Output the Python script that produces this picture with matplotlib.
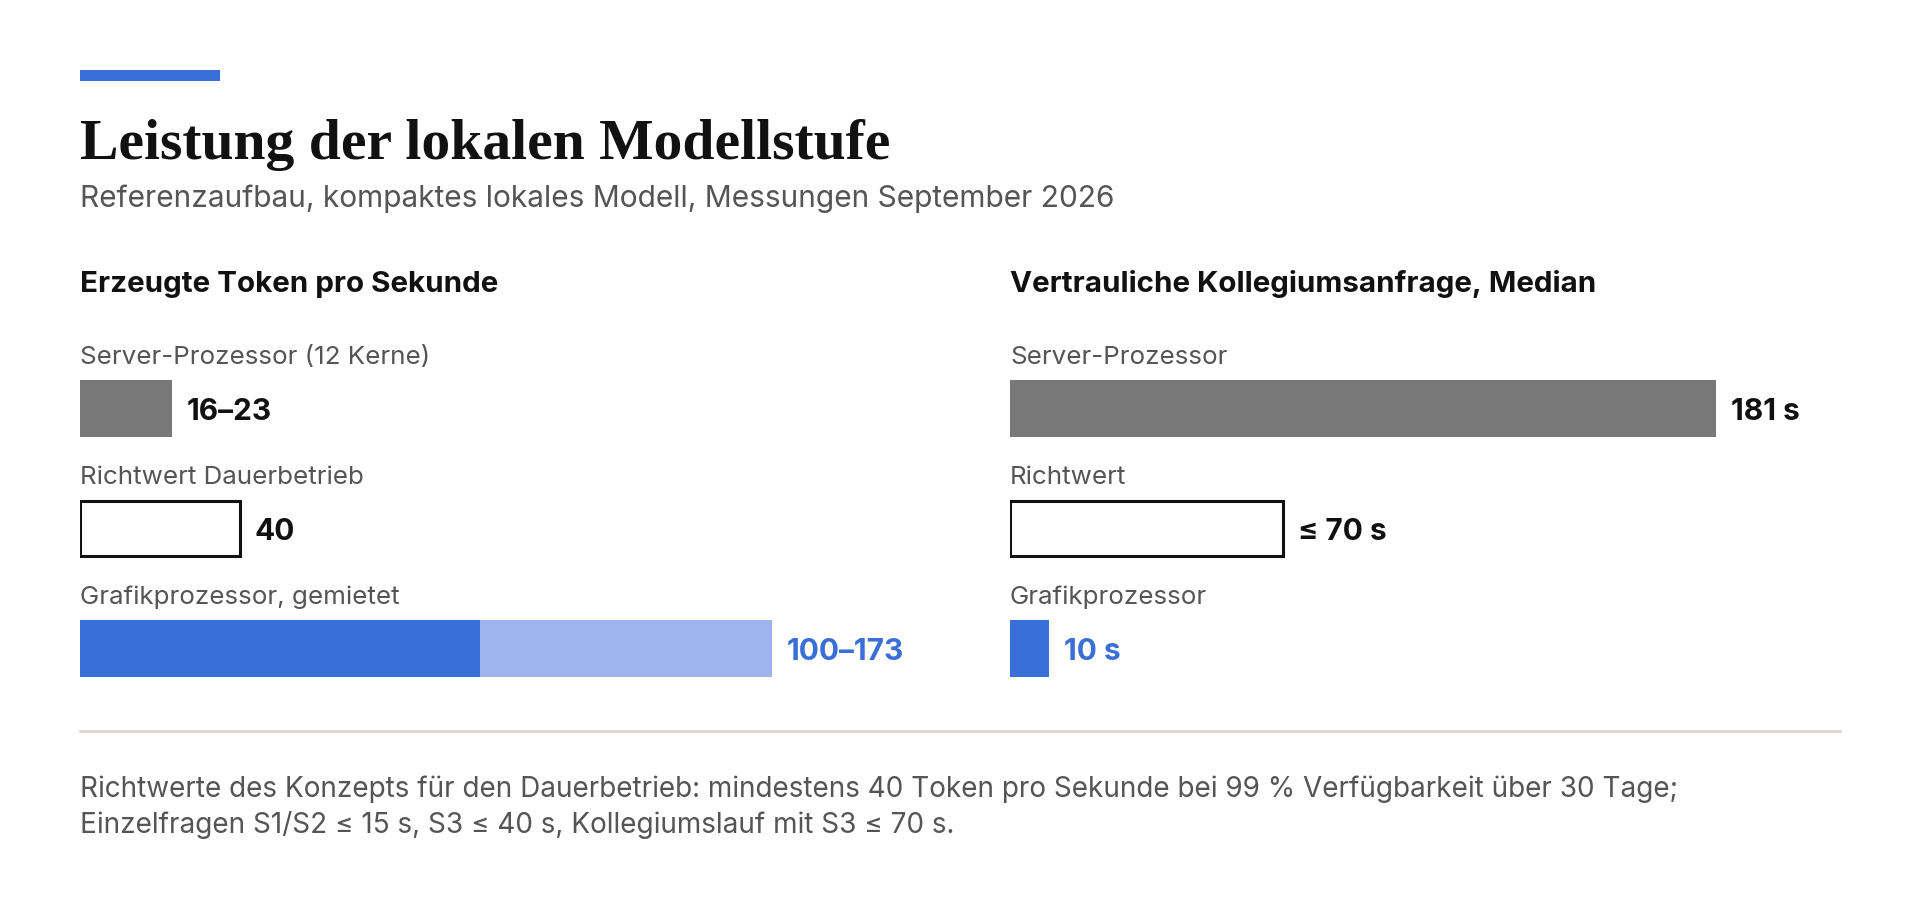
import matplotlib
matplotlib.use("Agg")
import matplotlib.pyplot as plt
from matplotlib.patches import Rectangle

plt.rcParams['font.family'] = ['Inter', 'DejaVu Sans']

## data
title = "Leistung der lokalen Modellstufe"
subtitle = "Referenzaufbau, kompaktes lokales Modell, Messungen September 2026"

tok_title = "Erzeugte Token pro Sekunde"
tok_labels = ["Server-Prozessor (12 Kerne)", "Richtwert Dauerbetrieb", "Grafikprozessor, gemietet"]
tok_low = [16, 40, 100]
tok_high = [23, 40, 173]
tok_text = ["16–23", "40", "100–173"]

lat_title = "Vertrauliche Kollegiumsanfrage, Median"
lat_labels = ["Server-Prozessor", "Richtwert", "Grafikprozessor"]
lat_values = [181, 70, 10]
lat_text = ["181 s", "≤ 70 s", "10 s"]

note_lines = ["Richtwerte des Konzepts für den Dauerbetrieb: mindestens 40 Token pro Sekunde bei 99 % Verfügbarkeit über 30 Tage;",
              "Einzelfragen S1/S2 ≤ 15 s, S3 ≤ 40 s, Kollegiumslauf mit S3 ≤ 70 s."]

## colours
GRAY = "#787878"
BLUE = "#3a6fd8"
LIGHT = "#9db5ec"
TXT = "#555555"

W, H = 1920, 900
fig = plt.figure(figsize=(19.2, 9), dpi=100)
fig.patch.set_facecolor("white")

def px(x, y):
    return x / W, 1 - y / H

# accent bar + header
fig.patches.append(Rectangle(px(80, 81), 140 / W, 11 / H, transform=fig.transFigure,
                             facecolor=BLUE, edgecolor="none"))
fig.text(*px(80, 159), title, fontsize=41.5, fontweight="bold",
         family=["Liberation Serif", "DejaVu Serif"], va="baseline", color="#111111")
fig.text(*px(80, 207), subtitle, fontsize=21.5, va="baseline", color=TXT)

# panels: rows spaced 120 px, bar height 57 px
row_h = 120
top = 348.5
ax_h = 3 * row_h

def make_ax(left, width, xmax):
    ax = fig.add_axes([left / W, 1 - (top + ax_h) / H, width / W, ax_h / H])
    ax.set_xlim(0, xmax)
    ax.set_ylim(2.5, -0.5)
    ax.axis("off")
    return ax

ax1 = make_ax(80, 700, 175)
ax2 = make_ax(1010, 780, 200)

fig.text(*px(80, 292), tok_title, fontsize=21.3, fontweight="bold", va="baseline", color="#111111")
fig.text(*px(1010, 292), lat_title, fontsize=21.3, fontweight="bold", va="baseline", color="#111111")

bh = 57 / row_h

# left panel
for i, (lab, lo, hi, t) in enumerate(zip(tok_labels, tok_low, tok_high, tok_text)):
    ax1.text(0, i - 0.37, lab, fontsize=18.7, color=TXT, va="baseline", clip_on=False)
    if i == 0:
        ax1.barh(i, hi, height=bh, color=GRAY)
        col = "#111111"
    elif i == 1:
        ax1.barh(i, hi, height=bh - 2 / row_h, facecolor="white", edgecolor="#111111", linewidth=2.2)
        col = "#111111"
    else:
        ax1.barh(i, lo, height=bh, color=BLUE)
        ax1.barh(i, hi - lo, left=lo, height=bh, color=LIGHT)
        col = BLUE
    ax1.annotate(t, (hi, i), xytext=(15, -11), textcoords="offset pixels", fontsize=21.5,
                 fontweight="bold", color=col, va="baseline", annotation_clip=False)

# right panel
for i, (lab, v, t) in enumerate(zip(lat_labels, lat_values, lat_text)):
    ax2.text(0, i - 0.37, lab, fontsize=18.7, color=TXT, va="baseline", clip_on=False)
    if i == 0:
        ax2.barh(i, v, height=bh, color=GRAY)
        col = "#111111"
    elif i == 1:
        ax2.barh(i, v, height=bh - 2 / row_h, facecolor="white", edgecolor="#111111", linewidth=2.2)
        col = "#111111"
    else:
        ax2.barh(i, v, height=bh, color=BLUE)
        col = BLUE
    ax2.annotate(t, (v, i), xytext=(15, -11), textcoords="offset pixels", fontsize=21.5,
                 fontweight="bold", color=col, va="baseline", annotation_clip=False)

# separator + footnote
fig.add_artist(plt.Line2D([80 / W, 1840 / W], [1 - 731 / H] * 2, transform=fig.transFigure,
                          color="#dad7d3", linewidth=2))
for k, line in enumerate(note_lines):
    fig.text(*px(80, 797 + 36 * k), line, fontsize=20.1, color=TXT, va="baseline")

fig.savefig("out.png", dpi=100, facecolor="white")
